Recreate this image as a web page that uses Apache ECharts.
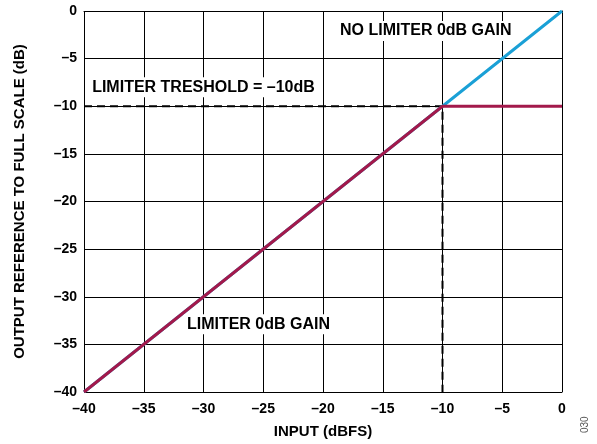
<!DOCTYPE html>
<html>
<head>
<meta charset="utf-8">
<script src="https://cdn.jsdelivr.net/npm/echarts@6/dist/echarts.min.js"></script>
<style>
  html, body { margin: 0; padding: 0; background: #fff; }
  #chart { width: 597px; height: 444px; }
</style>
</head>
<body>
<div id="chart"></div>
<script>
// Input level (dBFS) and output level (dB) for the two gain curves
const noLimiterCurve = [[-40, -40], [-10, -10], [0, 0]];
const limiterCurve = [[-40, -40], [-10, -10], [-9.5, -10], [0, -10]];
// Threshold guide (dashed)
const thresholdGuide = [[-40, -10], [-10, -10], [-10, -40]];
// Annotation texts and their anchor points in data units
const noteTexts = ['NO LIMITER 0dB GAIN', 'LIMITER TRESHOLD = \u201310dB', 'LIMITER 0dB GAIN'];
const notePoints = [[-11.4, -2.1], [-30.0, -8.0], [-25.4, -32.9]];

const fontFam = '"Liberation Sans", Arial, sans-serif';
const minusFmt = v => (v < 0 ? '\u2013' + Math.abs(v) : String(v));

const chart = echarts.init(document.getElementById('chart'), null, { renderer: 'canvas' });
chart.setOption({
  animation: false,
  backgroundColor: '#fff',
  grid: { left: 84, right: 35, top: 11, bottom: 52 },
  xAxis: {
    type: 'value', min: -40, max: 0, interval: 5,
    name: 'INPUT (dBFS)', nameLocation: 'middle', nameGap: 32,
    nameTextStyle: { color: '#000', fontWeight: 'bold', fontSize: 15, fontFamily: fontFam },
    axisLine: { lineStyle: { color: '#000', width: 1 } },
    axisTick: { show: false },
    splitLine: { show: true, lineStyle: { color: '#000', width: 1 } },
    axisLabel: { color: '#000', fontWeight: 'bold', fontSize: 14, fontFamily: fontFam, margin: 10, formatter: minusFmt }
  },
  yAxis: {
    type: 'value', min: -40, max: 0, interval: 5,
    name: 'OUTPUT REFERENCE TO FULL SCALE (dB)', nameLocation: 'middle', nameGap: 57,
    nameTextStyle: { color: '#000', fontWeight: 'bold', fontSize: 15, fontFamily: fontFam },
    axisLine: { show: true, lineStyle: { color: '#000', width: 1 } },
    axisTick: { show: false },
    splitLine: { show: true, lineStyle: { color: '#000', width: 1 } },
    axisLabel: { color: '#000', fontWeight: 'bold', fontSize: 14, fontFamily: fontFam, margin: 7, formatter: minusFmt }
  },
  series: [
    {
      type: 'line', data: thresholdGuide, symbol: 'none', z: 3,
      lineStyle: { color: '#000', width: 2, type: [8, 5] }
    },
    {
      type: 'line', data: noLimiterCurve, symbol: 'none', z: 4,
      lineStyle: { color: '#1aa0d6', width: 3 }
    },
    {
      type: 'line', data: limiterCurve, symbol: 'none', z: 5,
      lineStyle: { color: '#a3194b', width: 3 }
    }
  ]
});

// Place the annotation texts at their data anchors
const notes = notePoints.map((p, i) => {
  const [px, py] = chart.convertToPixel({ gridIndex: 0 }, p);
  return {
    type: 'text', x: px, y: py, z: 100,
    style: {
      text: noteTexts[i], fill: '#000', font: 'bold 16px ' + fontFam,
      align: 'center', verticalAlign: 'middle',
      backgroundColor: '#fff', padding: [2, 3]
    }
  };
});
notes.push({
  type: 'text', x: 585, y: 433, rotation: Math.PI / 2, z: 100,
  style: { text: '030', fill: '#555', font: '10px ' + fontFam, align: 'left', verticalAlign: 'middle' }
});
chart.setOption({ graphic: notes });
</script>
</body>
</html>
